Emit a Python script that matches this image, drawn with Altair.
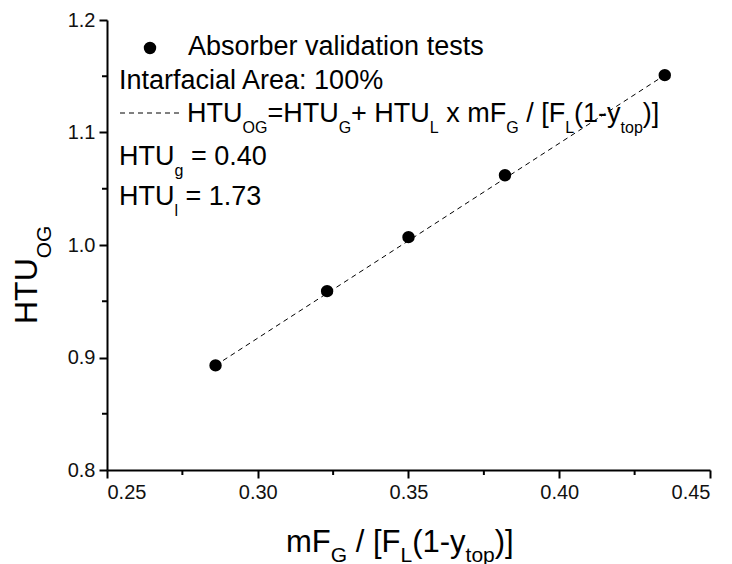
import altair as alt
import pandas as pd

# ---- data ----
x_vals = [0.286, 0.323, 0.350, 0.382, 0.435]
y_vals = [0.893, 0.959, 1.007, 1.062, 1.151]
line_x = [0.286, 0.435]
line_y = [0.893, 1.151]
x_ticks = [0.25, 0.30, 0.35, 0.40, 0.45]
x_minor = [0.275, 0.325, 0.375, 0.425]
y_ticks = [0.8, 0.9, 1.0, 1.1, 1.2]
y_minor = [0.85, 0.95, 1.05, 1.15]

legend_label = "Absorber validation tests"
note_area = "Intarfacial Area: 100%"
eq_segments = [("HTU", 0), ("OG", 1), ("=HTU", 0), ("G", 1), ("+ HTU", 0), ("L", 1),
               (" x mF", 0), ("G", 1), (" / [F", 0), ("L", 1), ("(1-y", 0), ("top", 1), (")]", 0)]
htug_segments = [("HTU", 0), ("g", 1), (" = 0.40", 0)]
htul_segments = [("HTU", 0), ("l", 1), (" = 1.73", 0)]
xtitle_segments = [("mF", 0), ("G", 1), (" / [F", 0), ("L", 1), ("(1-y", 0), ("top", 1), (")]", 0)]
ytitle_segments = [("HTU", 0), ("OG", 1)]

FONT = "Liberation Sans, Arial, Helvetica, sans-serif"
PAD_L, PAD_T, PAD_R, PAD_B = 107, 20, 22, 94
W_PLOT, H_PLOT = 603, 450

# Arial / Liberation Sans advance widths (per 1000 em)
CW = {' ': 278, '%': 889, '(': 333, ')': 333, '+': 584, '-': 333, '.': 278, '/': 278,
      ':': 278, '=': 584, '[': 278, ']': 278, 'A': 667, 'B': 667, 'F': 611, 'G': 778,
      'H': 722, 'I': 278, 'L': 556, 'O': 778, 'T': 611, 'U': 722, 'a': 556, 'b': 556,
      'c': 500, 'd': 556, 'e': 556, 'f': 278, 'g': 556, 'i': 222, 'l': 222, 'm': 833,
      'n': 556, 'o': 556, 'p': 556, 'r': 333, 's': 500, 't': 278, 'v': 500, 'x': 500, 'y': 500}
for d in "0123456789":
    CW[d] = 556


def text_width(s, fs):
    return sum(CW.get(c, 556) for c in s) / 1000.0 * fs


one = alt.Data(values=[{"k": 1}])


def text_layer(s, x, y, fs, angle=0):
    kw = dict(text=s, fontSize=fs, font=FONT, align="left", baseline="alphabetic", color="black")
    if angle:
        kw["angle"] = angle
    return alt.Chart(one).mark_text(**kw).encode(
        x=alt.value(x - PAD_L), y=alt.value(y - PAD_T))


def rich_text(segments, x0, y0, main, sub, off, angle=0):
    layers = []
    pos = x0 if angle == 0 else y0
    for s, is_sub in segments:
        fs = sub if is_sub else main
        # SVG drops leading spaces: advance past them and draw the rest
        lead = len(s) - len(s.lstrip(" "))
        adv = text_width(" " * lead, fs)
        pos = pos + adv if angle == 0 else pos - adv
        body = s.lstrip(" ")
        if angle == 0:
            layers.append(text_layer(body, pos, y0 + (off if is_sub else 0), fs))
            pos += text_width(body, fs)
        else:
            layers.append(text_layer(body, x0 + (off if is_sub else 0), pos, fs, angle))
            pos -= text_width(body, fs)
    return layers


pts = pd.DataFrame({"x": x_vals, "y": y_vals})
ln = pd.DataFrame({"x": line_x, "y": line_y})

xscale = alt.Scale(domain=[x_ticks[0], x_ticks[-1]], nice=False, zero=False)
yscale = alt.Scale(domain=[y_ticks[0], y_ticks[-1]], nice=False, zero=False)

axis_style = dict(title=None, grid=False, tickSize=8, domainColor="#000000", domainWidth=2,
                  tickColor="#000000", tickWidth=2, labelFont=FONT, labelFontSize=20,
                  labelColor="#111111", domainOpacity=1, tickOpacity=1)
xaxis = alt.Axis(values=x_ticks, format=".2f", labelPadding=4, orient="bottom", **axis_style)
yaxis = alt.Axis(values=y_ticks, format=".1f", labelPadding=4, orient="left", **axis_style)


def X(field="x"):
    return alt.X(f"{field}:Q", scale=xscale, axis=xaxis)


def Y(field="y"):
    return alt.Y(f"{field}:Q", scale=yscale, axis=yaxis)


line = alt.Chart(ln).mark_line(color="black", strokeWidth=1, strokeDash=[5, 4]).encode(
    x=X(), y=Y())

points = alt.Chart(pts).mark_circle(size=154, color="black", opacity=1).encode(
    x=X(), y=Y())

xm = pd.DataFrame({"x": x_minor})
ym = pd.DataFrame({"y": y_minor})
x_minor_ticks = alt.Chart(xm).mark_rule(color="black", strokeWidth=2).encode(
    x=X(), y=alt.value(H_PLOT), y2=alt.value(H_PLOT + 5))
y_minor_ticks = alt.Chart(ym).mark_rule(color="black", strokeWidth=2).encode(
    y=Y(), x=alt.value(-5), x2=alt.value(0))

legend_dot = alt.Chart(one).mark_circle(size=154, color="black", opacity=1).encode(
    x=alt.value(150 - PAD_L), y=alt.value(48 - PAD_T))
legend_dash = alt.Chart(one).mark_rule(color="black", strokeWidth=1, strokeDash=[5, 4]).encode(
    x=alt.value(120 - PAD_L), x2=alt.value(180 - PAD_L), y=alt.value(113 - PAD_T))

texts = []
texts.append(text_layer(legend_label, 188, 55, 27))
texts.append(text_layer(note_area, 119, 89, 27))
texts += rich_text(eq_segments, 187, 122, 27, 16, 11)
texts += rich_text(htug_segments, 119, 165, 27, 16, 11)
texts += rich_text(htul_segments, 119, 205, 27, 16, 11)
texts += rich_text(xtitle_segments, 286, 552, 31, 21, 10)
texts += rich_text(ytitle_segments, 37, 324, 32, 21, 14, angle=270)

chart = alt.layer(line, points, x_minor_ticks, y_minor_ticks, legend_dot, legend_dash, *texts).properties(
    width=W_PLOT, height=H_PLOT,
    padding={"left": PAD_L, "top": PAD_T, "right": PAD_R, "bottom": PAD_B},
    autosize=alt.AutoSizeParams(type="none"),
    background="white",
).configure_view(stroke=None).configure_axis(
    domainColor="#000000", domainWidth=2, tickColor="#000000", tickWidth=2,
    labelFont=FONT, labelFontSize=20, labelColor="#111111", grid=False,
)

chart.save("out.html", embed_options={"renderer": "svg", "actions": False})
